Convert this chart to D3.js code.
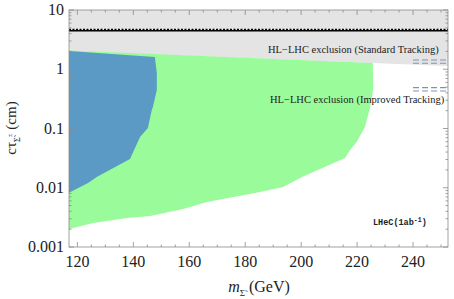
<!DOCTYPE html>
<html>
<head>
<meta charset="utf-8">
<script src="https://cdn.jsdelivr.net/npm/d3@7/dist/d3.min.js"></script>
<style>
  body { margin: 0; background: #fff; }
  svg text { font-family: "Times New Roman", serif; fill: #222; }
</style>
</head>
<body>
<svg id="chart" width="454" height="299"></svg>
<script>
// axis ticks
const xTicks = [120, 140, 160, 180, 200, 220, 240];
const yTicks = [0.001, 0.01, 0.1, 1, 10];
const yTickLabels = ["0.001", "0.01", "0.1", "1", "10"];

// HL-LHC exclusion band (standard tracking): lower edge, band goes up to 10
const bandMass = [117, 252.5];
const bandLow = [2.03, 1.13];
const bandHigh = 10;

// HL-LHC line near the top
const hlLineTau = 4.47;

// LHeC reach (green)
const greenMass = [117, 225.6, 225.8, 224.6, 222.8, 219.9, 217.5, 215.7, 200.3, 193.5, 185.3, 166.3, 157.8, 146, 137.7, 125.6, 119.9, 117];
const greenTau = [2.08, 1.27, 0.483, 0.222, 0.106, 0.0599, 0.0434, 0.0318, 0.0152, 0.0103, 0.00848, 0.00575, 0.00438, 0.00334, 0.00309, 0.00254, 0.00218, 0.00201];

// blue region
const blueMass = [117, 147.7, 148.4, 148.4, 147.0, 146.6, 145.2, 142.4, 138.8, 126.9, 123.8, 117];
const blueTau = [2.03, 1.61, 0.865, 0.447, 0.231, 0.205, 0.102, 0.0719, 0.0306, 0.0152, 0.0120, 0.0082];

// short double dashes at the right edge
const dashStart = 240;
const dashTau = [1.432, 1.259, 0.489, 0.430];

const width = 454, height = 299;
const margin = { left: 69, right: 6, top: 10, bottom: 52 };

const svg = d3.select('#chart');

const x = d3.scaleLinear().domain([117, 252.5]).range([margin.left, width - margin.right]);
const y = d3.scaleLog().domain([0.001, 10]).range([height - margin.bottom, margin.top]);

const area = d3.line().x(d => x(d[0])).y(d => y(d[1]));

// gray band
const bandPts = [[bandMass[0], bandHigh], [bandMass[1], bandHigh], [bandMass[1], bandLow[1]], [bandMass[0], bandLow[0]]];
svg.append('path')
    .attr('d', area(bandPts) + 'Z')
    .attr('fill', '#e4e4e4');

// green
svg.append('path')
    .attr('d', area(greenMass.map((m, i) => [m, greenTau[i]])) + 'Z')
    .attr('fill', '#99fb99');

// blue
svg.append('path')
    .attr('d', area(blueMass.map((m, i) => [m, blueTau[i]])) + 'Z')
    .attr('fill', '#5c9ac6');

// HL-LHC line: solid + dashed on top
svg.append('line')
    .attr('x1', x(bandMass[0])).attr('x2', x(bandMass[1]))
    .attr('y1', y(hlLineTau)).attr('y2', y(hlLineTau))
    .attr('stroke', '#000').attr('stroke-width', 1.6);
svg.append('line')
    .attr('x1', x(bandMass[0])).attr('x2', x(bandMass[1]))
    .attr('y1', y(hlLineTau) - 1.3).attr('y2', y(hlLineTau) - 1.3)
    .attr('stroke', '#000').attr('stroke-width', 1.2)
    .attr('stroke-dasharray', '2,1.5');

// double dashes
svg.selectAll('.dash')
    .data(dashTau)
    .enter()
    .append('line')
    .attr('class', 'dash')
    .attr('x1', x(dashStart)).attr('x2', x(bandMass[1]))
    .attr('y1', d => y(d)).attr('y2', d => y(d))
    .attr('stroke', '#7d93b3').attr('stroke-width', 1.1)
    .attr('stroke-dasharray', '6,3');

// labels inside plot
svg.append('text')
    .attr('x', 268).attr('y', 53)
    .style('font-size', '10.5px')
    .text('HL\u2212LHC exclusion (Standard Tracking)');
svg.append('text')
    .attr('x', 270).attr('y', 103)
    .style('font-size', '10.5px')
    .text('HL\u2212LHC exclusion (Improved Tracking)');

const lhec = svg.append('text')
    .attr('x', 373).attr('y', 225)
    .style('font-family', '"Liberation Mono", "Courier New", monospace')
    .style('font-weight', 'bold')
    .style('font-size', '8.5px');
lhec.append('tspan').text('LHeC(1ab');
lhec.append('tspan').attr('dy', -3).style('font-size', '6.5px').text('-1');
lhec.append('tspan').attr('dy', 3).text(')');

// frame and ticks
const x0 = margin.left, x1 = width - margin.right;
const y0 = height - margin.bottom, y1 = margin.top;
const tickColor = '#8a8a8a';

svg.append('rect')
    .attr('x', x0).attr('y', y1)
    .attr('width', x1 - x0).attr('height', y0 - y1)
    .attr('fill', 'none').attr('stroke', tickColor).attr('stroke-width', 0.8);

const xMinor = d3.range(120, 252, 5);
xMinor.forEach(v => {
    const len = v % 20 === 0 ? 5 : 2.5;
    svg.append('line').attr('x1', x(v)).attr('x2', x(v)).attr('y1', y0).attr('y2', y0 - len)
        .attr('stroke', tickColor).attr('stroke-width', 0.8);
    svg.append('line').attr('x1', x(v)).attr('x2', x(v)).attr('y1', y1).attr('y2', y1 + len)
        .attr('stroke', tickColor).attr('stroke-width', 0.8);
});

const yMinor = [];
[0.001, 0.01, 0.1, 1].forEach(d => { for (let k = 1; k < 10; k++) yMinor.push(d * k); });
yMinor.push(10);
yMinor.forEach(v => {
    const major = yTicks.some(t => Math.abs(t - v) < 1e-9);
    const len = major ? 5 : 2.5;
    svg.append('line').attr('x1', x0).attr('x2', x0 + len).attr('y1', y(v)).attr('y2', y(v))
        .attr('stroke', tickColor).attr('stroke-width', 0.8);
    svg.append('line').attr('x1', x1).attr('x2', x1 - len).attr('y1', y(v)).attr('y2', y(v))
        .attr('stroke', tickColor).attr('stroke-width', 0.8);
});

// tick labels
svg.selectAll('.xlab')
    .data(xTicks)
    .enter()
    .append('text')
    .attr('x', d => x(d)).attr('y', y0 + 20)
    .attr('text-anchor', 'middle')
    .style('font-size', '16px')
    .text(d => d);

svg.selectAll('.ylab')
    .data(yTicks)
    .enter()
    .append('text')
    .attr('x', x0 - 5).attr('y', d => y(d) + 5)
    .attr('text-anchor', 'end')
    .style('font-size', '16px')
    .text((d, i) => yTickLabels[i]);

// axis titles
const xt = svg.append('text')
    .attr('x', 259).attr('y', 292)
    .attr('text-anchor', 'middle')
    .style('font-size', '16px');
xt.append('tspan').style('font-style', 'italic').text('m');
xt.append('tspan').attr('dy', 4).style('font-size', '9px').text('\u03A3\u0303');
xt.append('tspan').attr('dy', -4).text(' (GeV)');

const yt = svg.append('text')
    .attr('transform', 'translate(16,128) rotate(-90)')
    .attr('text-anchor', 'middle')
    .style('font-size', '15px');
yt.append('tspan').text('c\u03C4');
yt.append('tspan').attr('dy', 4).style('font-size', '8px').text('\u03A3\u0303');
yt.append('tspan').attr('dy', -8).style('font-size', '7px').text('\u00B1');
yt.append('tspan').attr('dy', 4).text(' (cm)');
</script>
</body>
</html>
